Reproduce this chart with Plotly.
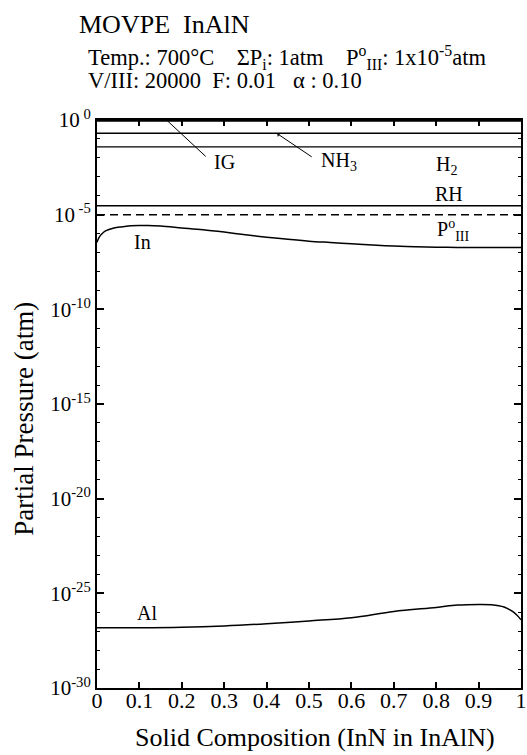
import plotly.graph_objects as go

# ---- data ----
x_in = [0, 0.005, 0.01, 0.02, 0.04, 0.06, 0.08, 0.1, 0.12, 0.15, 0.2, 0.25, 0.3,
        0.35, 0.4, 0.45, 0.5, 0.55, 0.6, 0.65, 0.7, 0.75, 0.8, 0.85, 0.9, 0.95, 1.0]
p_in = [3.5e-7, 6.3e-7, 8.9e-7, 1.4e-6, 2.0e-6, 2.3e-6, 2.6e-6, 2.7e-6, 2.7e-6, 2.5e-6,
        2.0e-6, 1.6e-6, 1.2e-6, 8.7e-7, 6.5e-7, 5.0e-7, 4.0e-7, 3.4e-7, 2.9e-7, 2.5e-7,
        2.2e-7, 2.0e-7, 1.9e-7, 1.86e-7, 1.86e-7, 1.86e-7, 1.86e-7]

x_al = [0, 0.1, 0.2, 0.3, 0.4, 0.5, 0.6, 0.7, 0.8, 0.85, 0.9, 0.93, 0.96, 0.98, 0.99, 1.0]
p_al = [1.5e-27, 1.5e-27, 1.6e-27, 1.9e-27, 2.5e-27, 3.5e-27, 5.1e-27, 1.1e-26, 1.8e-26,
        2.4e-26, 2.6e-26, 2.5e-26, 1.9e-26, 1.1e-26, 7.1e-27, 4.0e-27]

x_const = [0, 1]
p_ig = 0.9
p_nh3 = 0.2
p_h2 = 0.038
p_rh = 3e-5
p_iii = 1e-5

y_tickvals = [1e0, 1e-5, 1e-10, 1e-15, 1e-20, 1e-25, 1e-30]
y_ticktext = ["10<sup> 0</sup>", "10<sup> -5</sup>", "10<sup>-10</sup>", "10<sup>-15</sup>",
              "10<sup>-20</sup>", "10<sup>-25</sup>", "10<sup>-30</sup>"]
y_minor = [10.0 ** (-k) for k in range(0, 31)]
x_tickvals = [0, 0.1, 0.2, 0.3, 0.4, 0.5, 0.6, 0.7, 0.8, 0.9, 1]
x_ticktext = ["0", "0.1", "0.2", "0.3", "0.4", "0.5", "0.6", "0.7", "0.8", "0.9", "1"]

FONT = "Liberation Serif, Times New Roman, serif"
K = "black"

fig = go.Figure()
line = dict(color=K, width=1.5)
fig.add_trace(go.Scatter(x=x_const, y=[p_ig, p_ig], mode="lines", line=dict(color=K, width=2)))
fig.add_trace(go.Scatter(x=x_const, y=[p_nh3, p_nh3], mode="lines", line=line))
fig.add_trace(go.Scatter(x=x_const, y=[p_h2, p_h2], mode="lines", line=dict(color=K, width=1.2)))
fig.add_trace(go.Scatter(x=x_const, y=[p_rh, p_rh], mode="lines", line=line))
fig.add_trace(go.Scatter(x=x_const, y=[p_iii, p_iii], mode="lines",
                         line=dict(color=K, width=1.5, dash="8px,5px")))
fig.add_trace(go.Scatter(x=x_in, y=p_in, mode="lines", line=dict(color=K, width=1.5, shape="spline")))
fig.add_trace(go.Scatter(x=x_al, y=p_al, mode="lines", line=dict(color=K, width=1.5, shape="spline")))

lab = dict(family=FONT, size=20, color=K)
ann = [
    dict(x=0.30, y=-2.2, text="IG"),
    dict(x=0.57, y=-2.2, text="NH<sub>3</sub>"),
    dict(x=0.825, y=-2.4, text="H<sub>2</sub>"),
    dict(x=0.83, y=-3.9, text="RH"),
    dict(x=0.84, y=-5.8, text="P<sup>o</sup><sub>III</sub>"),
    dict(x=0.107, y=-6.45, text="In"),
    dict(x=0.117, y=-26.05, text="Al"),
]
for a in ann:
    fig.add_annotation(x=a["x"], y=a["y"], text=a["text"], showarrow=False,
                       xref="x", yref="y", font=lab)

# leader lines
fig.add_annotation(x=0.165, y=-0.02, ax=0.26, ay=-2.0, axref="x", ayref="y",
                   xref="x", yref="y", text="", showarrow=True, arrowhead=0,
                   arrowwidth=1, arrowcolor=K)
fig.add_annotation(x=0.425, y=-0.72, ax=0.51, ay=-2.0, axref="x", ayref="y",
                   xref="x", yref="y", text="", showarrow=True, arrowhead=1,
                   arrowsize=0.8, arrowwidth=1, arrowcolor=K)

# title texts
fig.add_annotation(x=-0.046, y=1.1673, xref="paper", yref="paper", xanchor="left",
                   yanchor="middle", text="MOVPE  InAlN", showarrow=False,
                   font=dict(family=FONT, size=26, color=K))
fig.add_annotation(x=-0.025, y=1.110, xref="paper", yref="paper", xanchor="left",
                   yanchor="middle",
                   text="Temp.: 700°C    ΣP<sub>i</sub>: 1atm    P<sup>o</sup><sub>III</sub>: 1x10<sup>-5</sup>atm",
                   showarrow=False, font=dict(family=FONT, size=22.5, color=K))
fig.add_annotation(x=-0.025, y=1.069, xref="paper", yref="paper", xanchor="left",
                   yanchor="middle", text="V/III: 20000  F: 0.01   α : 0.10",
                   showarrow=False, font=dict(family=FONT, size=22.5, color=K))

# axis titles
fig.add_annotation(x=0.513, y=-0.0863, xref="paper", yref="paper", xanchor="center",
                   yanchor="middle", text="Solid Composition (InN in InAlN)", showarrow=False,
                   font=dict(family=FONT, size=26, color=K))
fig.add_annotation(x=-0.171, y=0.475, xref="paper", yref="paper", xanchor="center",
                   yanchor="middle", text="Partial Pressure (atm)", showarrow=False,
                   textangle=-90, font=dict(family=FONT, size=27, color=K))

fig.update_layout(
    width=527, height=755,
    margin=dict(l=97, r=6, t=120, b=67, autoexpand=False),
    paper_bgcolor="white", plot_bgcolor="white",
    showlegend=False,
    font=dict(family=FONT, color=K),
)
fig.update_xaxes(
    range=[0, 1], tickvals=x_tickvals, ticktext=x_ticktext,
    ticks="inside", ticklen=6, tickwidth=1.5, tickcolor=K,
    showline=True, linewidth=2, linecolor=K, mirror="allticks",
    showgrid=False, zeroline=False, automargin=False,
    ticklabelstandoff=-8, ticklabeloverflow="allow",
    tickfont=dict(family=FONT, size=22, color=K),
)
fig.update_yaxes(
    type="log", range=[-30, 0], tickvals=y_tickvals, ticktext=y_ticktext,
    ticks="inside", ticklen=7, tickwidth=1.5, tickcolor=K,
    minor=dict(tickvals=y_minor, ticks="inside", ticklen=3, tickcolor=K, tickwidth=1),
    showline=True, linewidth=2, linecolor=K, mirror="allticks",
    showgrid=False, zeroline=False, automargin=False,
    ticklabeloverflow="allow",
    tickfont=dict(family=FONT, size=21, color=K),
)

# remove the browser's default page margin so the figure fills the window exactly
fig.write_html(
    "out.html",
    config={"displayModeBar": False},
    post_script="document.body.style.margin='0';document.body.style.overflow='hidden';",
)
